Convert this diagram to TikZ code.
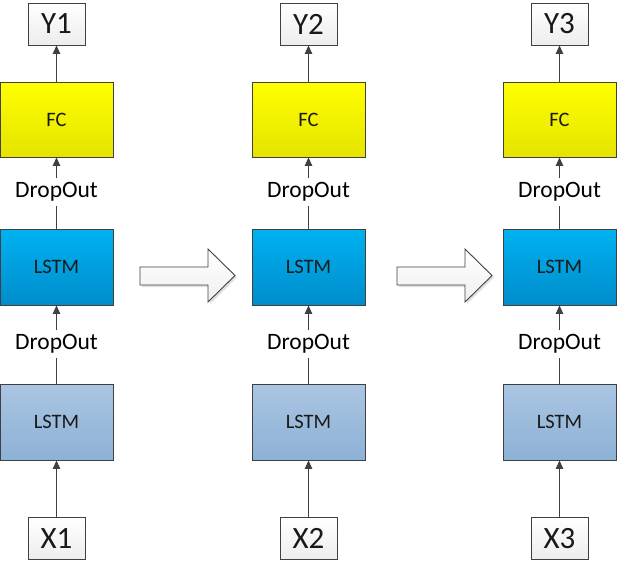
\documentclass[tikz,border=0pt]{standalone}
\usepackage{fontspec}
\setmainfont{Carlito}
\usepackage{xcolor}
\usetikzlibrary{arrows.meta}

\definecolor{edgegray}{HTML}{404040}
\definecolor{fcyellowtop}{HTML}{FFFF00}
\definecolor{fcyellowbot}{HTML}{E4E400}
\definecolor{lstmbluetop}{HTML}{00B2F0}
\definecolor{lstmbluebot}{HTML}{008CCC}
\definecolor{lstmgraytop}{HTML}{AAC5E2}
\definecolor{lstmgraybot}{HTML}{8DB1D6}

\begin{document}
\begin{tikzpicture}[x=1pt, y=-1pt,
			box/.style={rectangle, draw=edgegray, line width=0.9pt, inner sep=0pt, text centered, text=black!90},
			io/.style={box, top color=white, bottom color=black!7, minimum width=57pt, minimum height=42pt, font=\fontsize{31}{31}\selectfont},
			fc/.style={box, top color=fcyellowtop, bottom color=fcyellowbot, minimum width=113pt, minimum height=75pt, font=\fontsize{20.5}{20.5}\selectfont},
			lstm/.style={box, top color=lstmbluetop, bottom color=lstmbluebot, minimum width=113pt, minimum height=76pt, font=\fontsize{20.5}{20.5}\selectfont},
			lstmin/.style={box, top color=lstmgraytop, bottom color=lstmgraybot, minimum width=113pt, minimum height=76pt, font=\fontsize{20.5}{20.5}\selectfont},
			drop/.style={inner sep=4pt, font=\fontsize{23.5}{23.5}\selectfont},
			arrow/.style={-{Triangle[width=7.5pt,length=8.5pt]}, edgegray, line width=0.9pt},
			link/.style={edgegray, line width=0.9pt},
			bigarrow/.style={draw=edgegray, line width=0.9pt, top color=white, bottom color=black!6},
			bigshadow/.style={fill=black!12}
		]

		\useasboundingbox (0,0) rectangle (619,562);

		% Column 1
		\node[io] (y1) at (56.5,24) {Y1};
		\node[fc] (fc1) at (56.5,119.5) {FC};
		\node[drop] (dtop1) at (56.5,192) {DropOut};
		\node[lstm] (top1) at (56.5,267) {LSTM};
		\node[drop] (dbot1) at (56.5,344) {DropOut};
		\node[lstmin] (bot1) at (56.5,422) {LSTM};
		\node[io] (x1) at (56.5,538.5) {X1};

		% Column 2
		\node[io] (y2) at (308.5,24) {Y2};
		\node[fc] (fc2) at (308.5,119.5) {FC};
		\node[drop] (dtop2) at (308.5,192) {DropOut};
		\node[lstm] (top2) at (308.5,267) {LSTM};
		\node[drop] (dbot2) at (308.5,344) {DropOut};
		\node[lstmin] (bot2) at (308.5,422) {LSTM};
		\node[io] (x2) at (308.5,538.5) {X2};

		% Column 3
		\node[io] (y3) at (559.5,24) {Y3};
		\node[fc] (fc3) at (559.5,119.5) {FC};
		\node[drop] (dtop3) at (559.5,192) {DropOut};
		\node[lstm] (top3) at (559.5,267) {LSTM};
		\node[drop] (dbot3) at (559.5,344) {DropOut};
		\node[lstmin] (bot3) at (559.5,422) {LSTM};
		\node[io] (x3) at (559.5,538.5) {X3};

		% Arrows
		\draw[arrow] (x1) -- (bot1);
		\draw[link] (bot1) -- (dbot1);
		\draw[arrow] (dbot1) -- (top1);
		\draw[link] (top1) -- (dtop1);
		\draw[arrow] (dtop1) -- (fc1);
		\draw[arrow] (fc1) -- (y1);

		\draw[arrow] (x2) -- (bot2);
		\draw[link] (bot2) -- (dbot2);
		\draw[arrow] (dbot2) -- (top2);
		\draw[link] (top2) -- (dtop2);
		\draw[arrow] (dtop2) -- (fc2);
		\draw[arrow] (fc2) -- (y2);

		\draw[arrow] (x3) -- (bot3);
		\draw[link] (bot3) -- (dbot3);
		\draw[arrow] (dbot3) -- (top3);
		\draw[link] (top3) -- (dtop3);
		\draw[arrow] (dtop3) -- (fc3);
		\draw[arrow] (fc3) -- (y3);

		% Block arrows between steps
		\fill[bigshadow] (142,287) -- (210,287) -- (210,304) -- (237,277.5) -- (210,251) -- (210,269) -- (142,269) -- cycle;
		\path[bigarrow] (140,285) -- (208,285) -- (208,302) -- (235,275.5) -- (208,249) -- (208,267) -- (140,267) -- cycle;

		\fill[bigshadow] (399,287) -- (467,287) -- (467,304) -- (494,277.5) -- (467,251) -- (467,269) -- (399,269) -- cycle;
		\path[bigarrow] (397,285) -- (465,285) -- (465,302) -- (492,275.5) -- (465,249) -- (465,267) -- (397,267) -- cycle;

	\end{tikzpicture}
\end{document}
